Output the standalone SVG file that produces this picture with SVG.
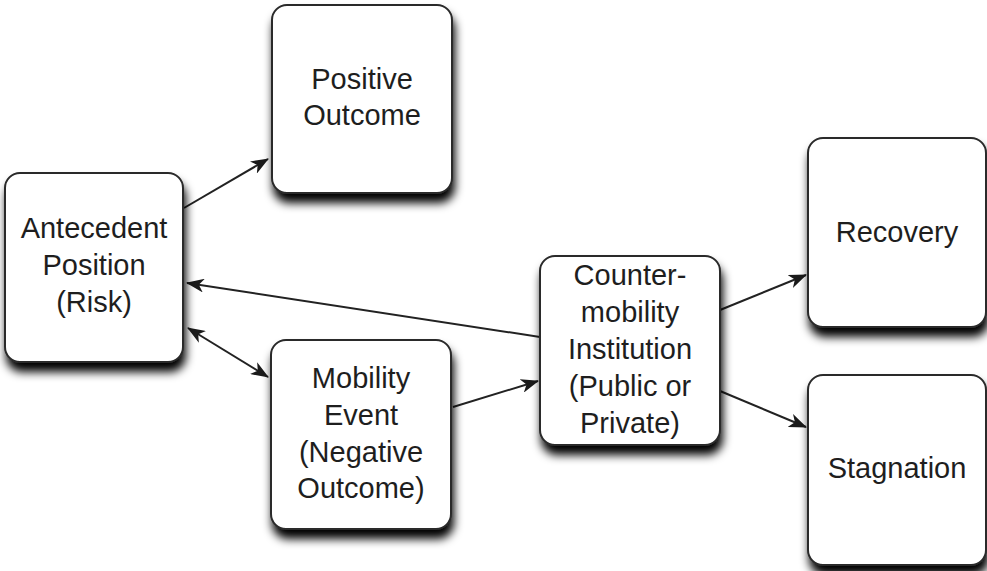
<svg xmlns="http://www.w3.org/2000/svg" width="987" height="571" viewBox="0 0 987 571">
  <defs>
    <filter id="shadow" x="-20%" y="-20%" width="150%" height="150%">
      <feGaussianBlur in="SourceAlpha" stdDeviation="5"/>
      <feOffset dx="2" dy="9" result="b"/>
      <feComponentTransfer><feFuncA type="linear" slope="1"/></feComponentTransfer>
      <feMerge><feMergeNode/><feMergeNode in="SourceGraphic"/></feMerge>
    </filter>
    <marker id="arrow" viewBox="0 0 18 14" refX="17" refY="7" markerWidth="18" markerHeight="14" markerUnits="userSpaceOnUse" orient="auto-start-reverse">
      <path d="M0,0 L18,7 L0,14 L5,7 Z" fill="#1a1a1a"/>
    </marker>
  </defs>
  <style>
    .box { fill: #ffffff; stroke: #2a2a2a; stroke-width: 2; filter: url(#shadow); }
    .label { font-family: "Liberation Sans", Arial, sans-serif; font-size: 29px; fill: #1e1e1e; text-anchor: middle; }
    .conn { stroke: #222222; stroke-width: 2; fill: none; }
  </style>
  <rect width="987" height="571" fill="#ffffff"/>

  <g id="connectors">
    <line class="conn" x1="184" y1="208" x2="268" y2="159" marker-end="url(#arrow)"/>
    <line class="conn" x1="540" y1="337" x2="187" y2="283" marker-end="url(#arrow)"/>
    <line class="conn" x1="188" y1="328" x2="268" y2="377" marker-start="url(#arrow)" marker-end="url(#arrow)"/>
    <line class="conn" x1="453" y1="407" x2="538" y2="381" marker-end="url(#arrow)"/>
    <line class="conn" x1="720" y1="310" x2="806" y2="275" marker-end="url(#arrow)"/>
    <line class="conn" x1="720" y1="391" x2="806" y2="427" marker-end="url(#arrow)"/>
  </g>

  <g id="antecedent">
    <rect class="box" x="5" y="173" width="178" height="189" rx="15" ry="15"/>
    <text class="label" x="94" y="238">Antecedent</text>
    <text class="label" x="94" y="275">Position</text>
    <text class="label" x="94" y="312">(Risk)</text>
  </g>

  <g id="positive-outcome">
    <rect class="box" x="272" y="5" width="180" height="188" rx="15" ry="15"/>
    <text class="label" x="362" y="89">Positive</text>
    <text class="label" x="362" y="125">Outcome</text>
  </g>

  <g id="mobility-event">
    <rect class="box" x="271" y="340" width="180" height="189" rx="15" ry="15"/>
    <text class="label" x="361" y="388">Mobility</text>
    <text class="label" x="361" y="425">Event</text>
    <text class="label" x="361" y="462">(Negative</text>
    <text class="label" x="361" y="498">Outcome)</text>
  </g>

  <g id="counter-mobility">
    <rect class="box" x="540" y="256" width="180" height="189" rx="15" ry="15"/>
    <text class="label" x="630" y="285">Counter-</text>
    <text class="label" x="630" y="322">mobility</text>
    <text class="label" x="630" y="359">Institution</text>
    <text class="label" x="630" y="396">(Public or</text>
    <text class="label" x="630" y="433">Private)</text>
  </g>

  <g id="recovery">
    <rect class="box" x="808" y="138" width="178" height="189" rx="15" ry="15"/>
    <text class="label" x="897" y="242">Recovery</text>
  </g>

  <g id="stagnation">
    <rect class="box" x="808" y="375" width="178" height="190" rx="15" ry="15"/>
    <text class="label" x="897" y="478">Stagnation</text>
  </g>
</svg>
